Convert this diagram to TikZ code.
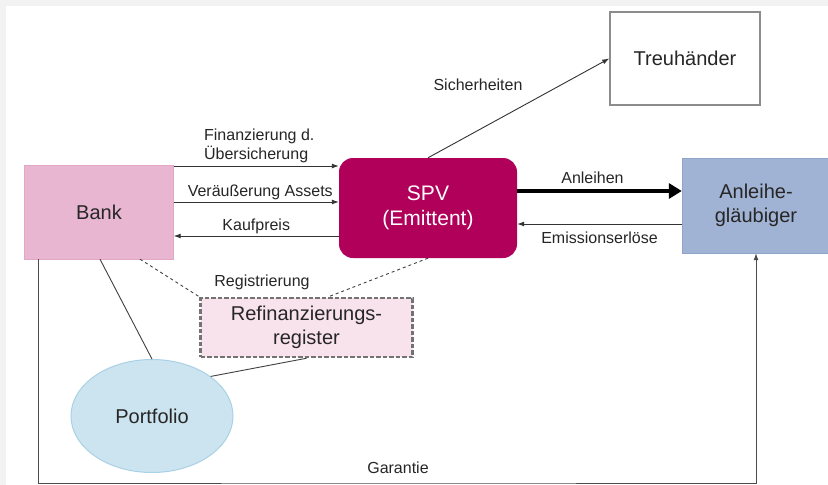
\documentclass[tikz,border=0pt]{standalone}
\usepackage{fontspec}
\setmainfont{Liberation Sans}
\usetikzlibrary{arrows.meta,%
	positioning,%
	shapes.geometric}
\definecolor{bankpink}{HTML}{E8B6D1}
\definecolor{bankline}{HTML}{E2A6C6}
\definecolor{spvred}{HTML}{B0005A}
\definecolor{glblue}{HTML}{A1B3D4}
\definecolor{glline}{HTML}{90A4CA}
\definecolor{regpink}{HTML}{F8E2EC}
\definecolor{portblue}{HTML}{CCE4F0}
\definecolor{portline}{HTML}{A9D1E5}
\definecolor{backgray}{HTML}{F2F2F2}

\begin{document}
\begin{tikzpicture}[x=1pt, y=-1pt, box/.style = {rectangle, inner sep=0pt, align=center, font=\fontsize{20}{24}\selectfont, text=black!85},flow/.style = {draw=black!80, line width=0.9pt, -{Latex[length=7pt,width=5pt]}},link/.style = {draw=black!75, line width=0.9pt},lbl/.style = {font=\fontsize{16}{19}\selectfont, text=black!85, inner sep=2pt}]
	\useasboundingbox (0,0) rectangle (828,485);
	\fill[backgray] (0,0) rectangle (828,485);
	\fill[white] (6,6) rectangle (828,485);
	% boxes
	\node[box, fill=bankpink, draw=bankline, minimum width=149pt, minimum height=94pt] (bank) at (99,212) {Bank};
	\node[box, fill=spvred, text=white, rounded corners=14pt, minimum width=178pt, minimum height=100pt, font=\fontsize{21}{25}\selectfont] (spv) at (428,208) {SPV\\(Emittent)};
	\node[box, fill=glblue, draw=glline, minimum width=148pt, minimum height=95pt] (glaeub) at (756,205.5) {Anleihe-\\gläubiger};
	\node[box, fill=white, draw=black!45, line width=1.5pt, minimum width=150pt, minimum height=93pt] (treu) at (685,58.5) {Treuhänder};
	\node[box, fill=regpink, draw=black!55, line width=2.5pt, dash pattern=on 4.5pt off 2pt, minimum width=212pt, minimum height=59pt] (reg) at (306.5,327.5) {Refinanzierungs-\\register};
	\node[box, ellipse, fill=portblue, draw=portline, line width=1pt, minimum width=162pt, minimum height=113pt] (port) at (152,416) {Portfolio};
	% bank <-> spv
	\draw[flow] ([yshift=46pt]bank.east) -- node[lbl, pos=0, anchor=south west, align=left, xshift=28pt, yshift=1pt] (finlbl) {Finanzierung d.\\Übersicherung} ([yshift=46pt]bank.east -| spv.west);
	\draw[flow] ([yshift=10pt]bank.east) -- node[lbl, above, xshift=4pt] (verlbl) {Veräußerung Assets} ([yshift=10pt]bank.east -| spv.west);
	\draw[flow] ([yshift=-24pt]bank.east -| spv.west) -- node[lbl, above] (kauflbl) {Kaufpreis} ([yshift=-24pt]bank.east);
	% spv <-> glaeubiger
	\draw[draw=black, line width=4pt, -{Triangle[length=13pt,width=15pt]}] ([yshift=17pt]spv.east) -- node[lbl, above, xshift=-7pt, yshift=3pt] (anllbl) {Anleihen} ([yshift=17pt]spv.east -| glaeub.west);
	\draw[flow] ([yshift=-16pt]spv.east -| glaeub.west) -- node[lbl, below, yshift=-5pt] (emilbl) {Emissionserlöse} ([yshift=-16pt]spv.east);
	\draw[flow] (spv.north) -- (treu.west);
	\node[lbl] (sichlbl) at (478,85) {Sicherheiten};
	% register
	\draw[link, dashed] ([xshift=41pt]bank.south) -- (reg.north west);
	\draw[link, dashed] (spv.south) -- ([xshift=22pt]reg.north);
	\node[lbl] (reglbl) at (262,282) {Registrierung};
	\draw[link] ([xshift=1pt]bank.south) -- (port.north);
	\draw[link] (port.34) -- (reg.south);
	% garantie
	\coordinate (garbot) at (400,483);
	\draw[flow, draw=black!70] ([xshift=14pt]bank.south west) |- (garbot) -| (glaeub.south);
	\node[lbl] (garlbl) at (398,468) {Garantie};
\end{tikzpicture}
\end{document}
